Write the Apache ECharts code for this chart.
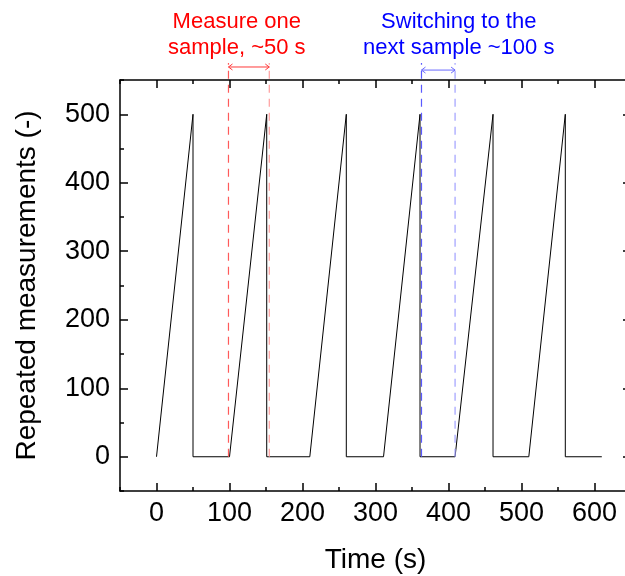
<!DOCTYPE html>
<html>
<head>
<meta charset="utf-8">
<script src="https://cdn.jsdelivr.net/npm/echarts@6/dist/echarts.min.js"></script>
<style>
html,body{margin:0;padding:0;background:#fff;}
#chart{width:625px;height:576px;}
</style>
</head>
<body>
<div id="chart"></div>
<script>
// ---- data ----
const timeS  = [0, 50, 50, 100, 151, 151, 210, 260, 260, 311, 361, 361, 409, 461, 461, 510, 560, 560, 610];
const counts = [0, 500, 0, 0, 500, 0, 0, 500, 0, 0, 500, 0, 0, 500, 0, 0, 500, 0, 0];
const xTicks = [0, 100, 200, 300, 400, 500, 600];
const xMinorTicks = [-50, 50, 150, 250, 350, 450, 550, 650];
const yTicks = [0, 100, 200, 300, 400, 500];
const yMinorTicks = [-50, 50, 150, 250, 350, 450, 550];
const measureLines = [98.6, 154.5];   // red dashed markers (s)
const switchLines = [363, 409];       // blue dashed markers (s)
const measureText = 'Measure one\nsample, ~50 s';
const switchText = 'Switching to the\nnext sample ~100 s';

const FONT = 'Liberation Sans, Arial, sans-serif';
const chart = echarts.init(document.getElementById('chart'), null, {renderer: 'canvas'});

const axisLineStyle = {show: true, onZero: false, lineStyle: {color: '#000', width: 1.5}};
function xMajor(pos, withLabels) {
  return {
    type: 'value', gridIndex: 0, position: pos, min: -50, max: 650,
    axisLine: axisLineStyle,
    axisTick: {show: true, inside: true, length: 8, customValues: xTicks, lineStyle: {color: '#000', width: 1.5}},
    axisLabel: withLabels ? {show: true, customValues: xTicks, fontSize: 27, color: '#000', fontFamily: FONT, margin: 9} : {show: false},
    splitLine: {show: false},
    name: withLabels ? 'Time (s)' : '', nameLocation: 'middle', nameGap: 55,
    nameTextStyle: {fontSize: 28, color: '#000', fontFamily: FONT}
  };
}
function xMinor(pos) {
  return {
    type: 'value', gridIndex: 1, position: pos, min: -50, max: 650,
    axisLine: {show: false, onZero: false},
    axisTick: {show: true, inside: true, length: 4, customValues: xMinorTicks, lineStyle: {color: '#000', width: 1.5}},
    axisLabel: {show: false}, splitLine: {show: false}
  };
}
function yMajor(pos, withLabels) {
  return {
    type: 'value', gridIndex: 0, position: pos, min: -50, max: 550,
    axisLine: axisLineStyle,
    axisTick: {show: true, inside: true, length: 8, customValues: yTicks, lineStyle: {color: '#000', width: 1.5}},
    axisLabel: withLabels ? {show: true, customValues: yTicks, fontSize: 27, color: '#000', fontFamily: FONT, margin: 10} : {show: false},
    splitLine: {show: false},
    name: withLabels ? 'Repeated measurements (-)' : '', nameLocation: 'middle', nameGap: 79,
    nameTextStyle: {fontSize: 28, color: '#000', fontFamily: FONT}
  };
}
function yMinor(pos) {
  return {
    type: 'value', gridIndex: 1, position: pos, min: -50, max: 550,
    axisLine: {show: false, onZero: false},
    axisTick: {show: true, inside: true, length: 4, customValues: yMinorTicks, lineStyle: {color: '#000', width: 1.5}},
    axisLabel: {show: false}, splitLine: {show: false}
  };
}

const gridBox = {left: 120, top: 80, width: 511, height: 411, containLabel: false, outerBoundsMode: 'none'};
chart.setOption({
  animation: false,
  backgroundColor: '#fff',
  grid: [Object.assign({}, gridBox), Object.assign({}, gridBox)],
  xAxis: [xMajor('bottom', true), xMajor('top', false), xMinor('bottom'), xMinor('top')],
  yAxis: [yMajor('left', true), yMajor('right', false), yMinor('left'), yMinor('right')],
  series: [{
    type: 'line', xAxisIndex: 0, yAxisIndex: 0,
    data: timeS.map((t, i) => [t, counts[i]]),
    symbol: 'none', lineStyle: {color: '#000', width: 1}
  }]
});

function px(x, y) { return chart.convertToPixel({xAxisIndex: 0, yAxisIndex: 0}, [x, y]); }

const graphics = [];
function dashed(x, color) {
  const a = px(x, 0), b = px(x, 575);
  graphics.push({type: 'line', shape: {x1: a[0], y1: a[1], x2: b[0], y2: b[1]},
    style: {stroke: color, lineWidth: 1.2, lineDash: [8, 6]}, z: 50});
}
function arrow(x1, x2, y, color) {
  const a = px(x1, y), b = px(x2, y);
  const h = 4, w = 3;
  graphics.push({type: 'line', shape: {x1: a[0], y1: a[1], x2: b[0], y2: b[1]}, style: {stroke: color, lineWidth: 1}, z: 50});
  graphics.push({type: 'polyline', shape: {points: [[a[0] + h, a[1] - w], [a[0], a[1]], [a[0] + h, a[1] + w]]}, style: {stroke: color, lineWidth: 1, fill: null}, z: 50});
  graphics.push({type: 'polyline', shape: {points: [[b[0] - h, b[1] - w], [b[0], b[1]], [b[0] - h, b[1] + w]]}, style: {stroke: color, lineWidth: 1, fill: null}, z: 50});
}
function label(x, y, text, color) {
  const p = px(x, y);
  graphics.push({type: 'text', x: p[0], y: p[1], style: {text: text, fill: color, font: '22px ' + FONT,
    align: 'center', verticalAlign: 'middle', lineHeight: 26}, z: 60});
}

dashed(measureLines[0], '#ff5a5a');
dashed(measureLines[1], '#ff9e9e');
dashed(switchLines[0], '#5a5aff');
dashed(switchLines[1], '#a0a0ff');
arrow(measureLines[0], measureLines[1], 569, '#ff3a3a');
arrow(switchLines[0], switchLines[1], 564.5, '#6a6aff');
label(110, 616, measureText, '#ff0000');
label(414, 616, switchText, '#0000ff');

chart.setOption({graphic: graphics});
</script>
</body>
</html>
